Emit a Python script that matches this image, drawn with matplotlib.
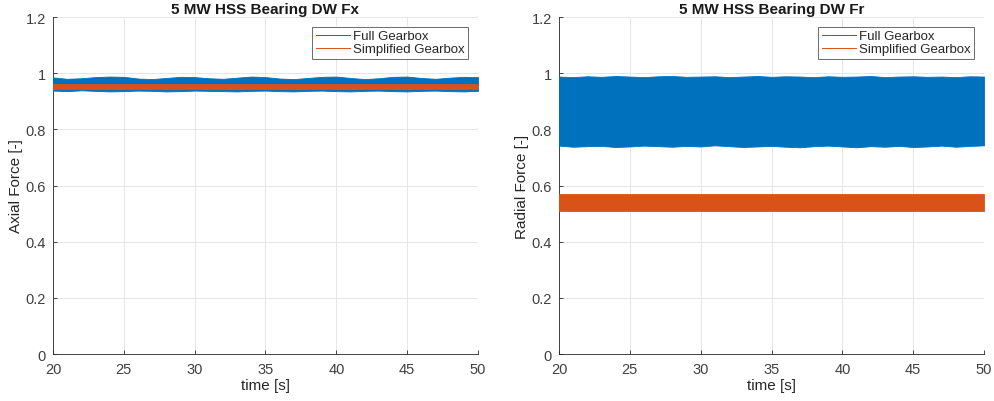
import numpy as np
import matplotlib.pyplot as plt
from matplotlib.lines import Line2D

plt.rcParams['font.family'] = ['Liberation Sans', 'DejaVu Sans']

# time points of the envelopes [s]
t = [20, 21, 22, 23, 24, 25, 26, 27, 28, 29, 30, 31, 32, 33, 34, 35, 36, 37, 38, 39, 40,
     41, 42, 43, 44, 45, 46, 47, 48, 49, 50]

# axial force (Fx) envelopes
fx_full_hi = [0.985, 0.980, 0.982, 0.986, 0.988, 0.987, 0.981, 0.979, 0.983, 0.987, 0.986,
              0.982, 0.980, 0.984, 0.988, 0.986, 0.981, 0.979, 0.983, 0.987, 0.988,
              0.983, 0.979, 0.982, 0.987, 0.988, 0.983, 0.980, 0.984, 0.987, 0.986]
fx_full_lo = [0.938, 0.936, 0.939, 0.937, 0.935, 0.936, 0.938, 0.937, 0.935, 0.936, 0.938,
              0.937, 0.936, 0.935, 0.937, 0.938, 0.936, 0.935, 0.937, 0.938, 0.936,
              0.935, 0.937, 0.938, 0.936, 0.935, 0.937, 0.938, 0.936, 0.935, 0.937]
fx_simp_hi = [0.963] * 31
fx_simp_lo = [0.945] * 31

# radial force (Fr) envelopes
fr_full_hi = [0.988, 0.986, 0.989, 0.987, 0.990, 0.988, 0.986, 0.989, 0.990, 0.987, 0.988,
              0.989, 0.986, 0.988, 0.990, 0.987, 0.989, 0.988, 0.986, 0.989, 0.987,
              0.988, 0.990, 0.986, 0.988, 0.989, 0.987, 0.988, 0.986, 0.989, 0.988]
fr_full_lo = [0.742, 0.738, 0.740, 0.741, 0.737, 0.739, 0.742, 0.740, 0.738, 0.741, 0.739,
              0.743, 0.740, 0.737, 0.739, 0.741, 0.738, 0.736, 0.740, 0.742, 0.739,
              0.736, 0.740, 0.738, 0.741, 0.737, 0.739, 0.742, 0.738, 0.741, 0.743]
fr_simp_hi = [0.568] * 31
fr_simp_lo = [0.508] * 31

labels = ['Full Gearbox', 'Simplified Gearbox']
c_full = '#0072BD'
c_simp = '#D95319'
c_txt = '#404040'

fig = plt.figure(figsize=(9.94, 4.02), dpi=100)
ax1 = fig.add_axes([0.0533, 0.1169, 0.4276, 0.8383])
ax2 = fig.add_axes([0.5624, 0.1169, 0.4276, 0.8383])

panels = [
    (ax1, 'Axial Force [-]', '5 MW HSS Bearing DW Fx', fx_full_lo, fx_full_hi, fx_simp_lo, fx_simp_hi),
    (ax2, 'Radial Force [-]', '5 MW HSS Bearing DW Fr', fr_full_lo, fr_full_hi, fr_simp_lo, fr_simp_hi),
]

for ax, ylab, title, flo, fhi, slo, shi in panels:
    ax.fill_between(t, flo, fhi, color=c_full, lw=0.6, edgecolor=c_full, zorder=3)
    ax.fill_between(t, slo, shi, color=c_simp, lw=0.6, edgecolor=c_simp, zorder=4)
    ax.set_xlim(20, 50)
    ax.set_ylim(0, 1.2)
    ax.set_xticks(np.arange(20, 51, 5))
    ax.set_yticks([0, 0.2, 0.4, 0.6, 0.8, 1, 1.2])
    ax.set_yticklabels(['0', '0.2', '0.4', '0.6', '0.8', '1', '1.2'])
    ax.grid(True, color='#e6e6e6', lw=0.7)
    ax.set_axisbelow(True)
    for s in ['top', 'right']:
        ax.spines[s].set_visible(False)
    for s in ['left', 'bottom']:
        ax.spines[s].set_color('#262626')
        ax.spines[s].set_linewidth(0.6)
    ax.tick_params(direction='in', length=3, width=0.6, labelsize=10.5,
                   colors='#262626', labelcolor=c_txt)
    ax.tick_params(axis='x', pad=6)
    ax.tick_params(axis='y', pad=5)
    ax.set_xlabel('time [s]', fontsize=11, color='#262626', labelpad=1)
    ax.set_ylabel(ylab, fontsize=11, color='#262626', labelpad=2)
    ax.set_title(title, fontsize=11, fontweight='bold', color='#1a1a1a', pad=3)
    handles = [Line2D([], [], color=c_full, lw=0.7), Line2D([], [], color=c_simp, lw=0.7)]
    leg = ax.legend(handles, labels, loc='upper right', prop={'size': 9.5}, fancybox=False,
                    framealpha=1, edgecolor='#555555', borderpad=0.25, labelspacing=0.05,
                    handlelength=2.6, handletextpad=0.25, borderaxespad=0.75)
    leg.get_frame().set_linewidth(0.6)
    for txt in leg.get_texts():
        txt.set_color('#262626')

fig.savefig('out.png', dpi=100)
